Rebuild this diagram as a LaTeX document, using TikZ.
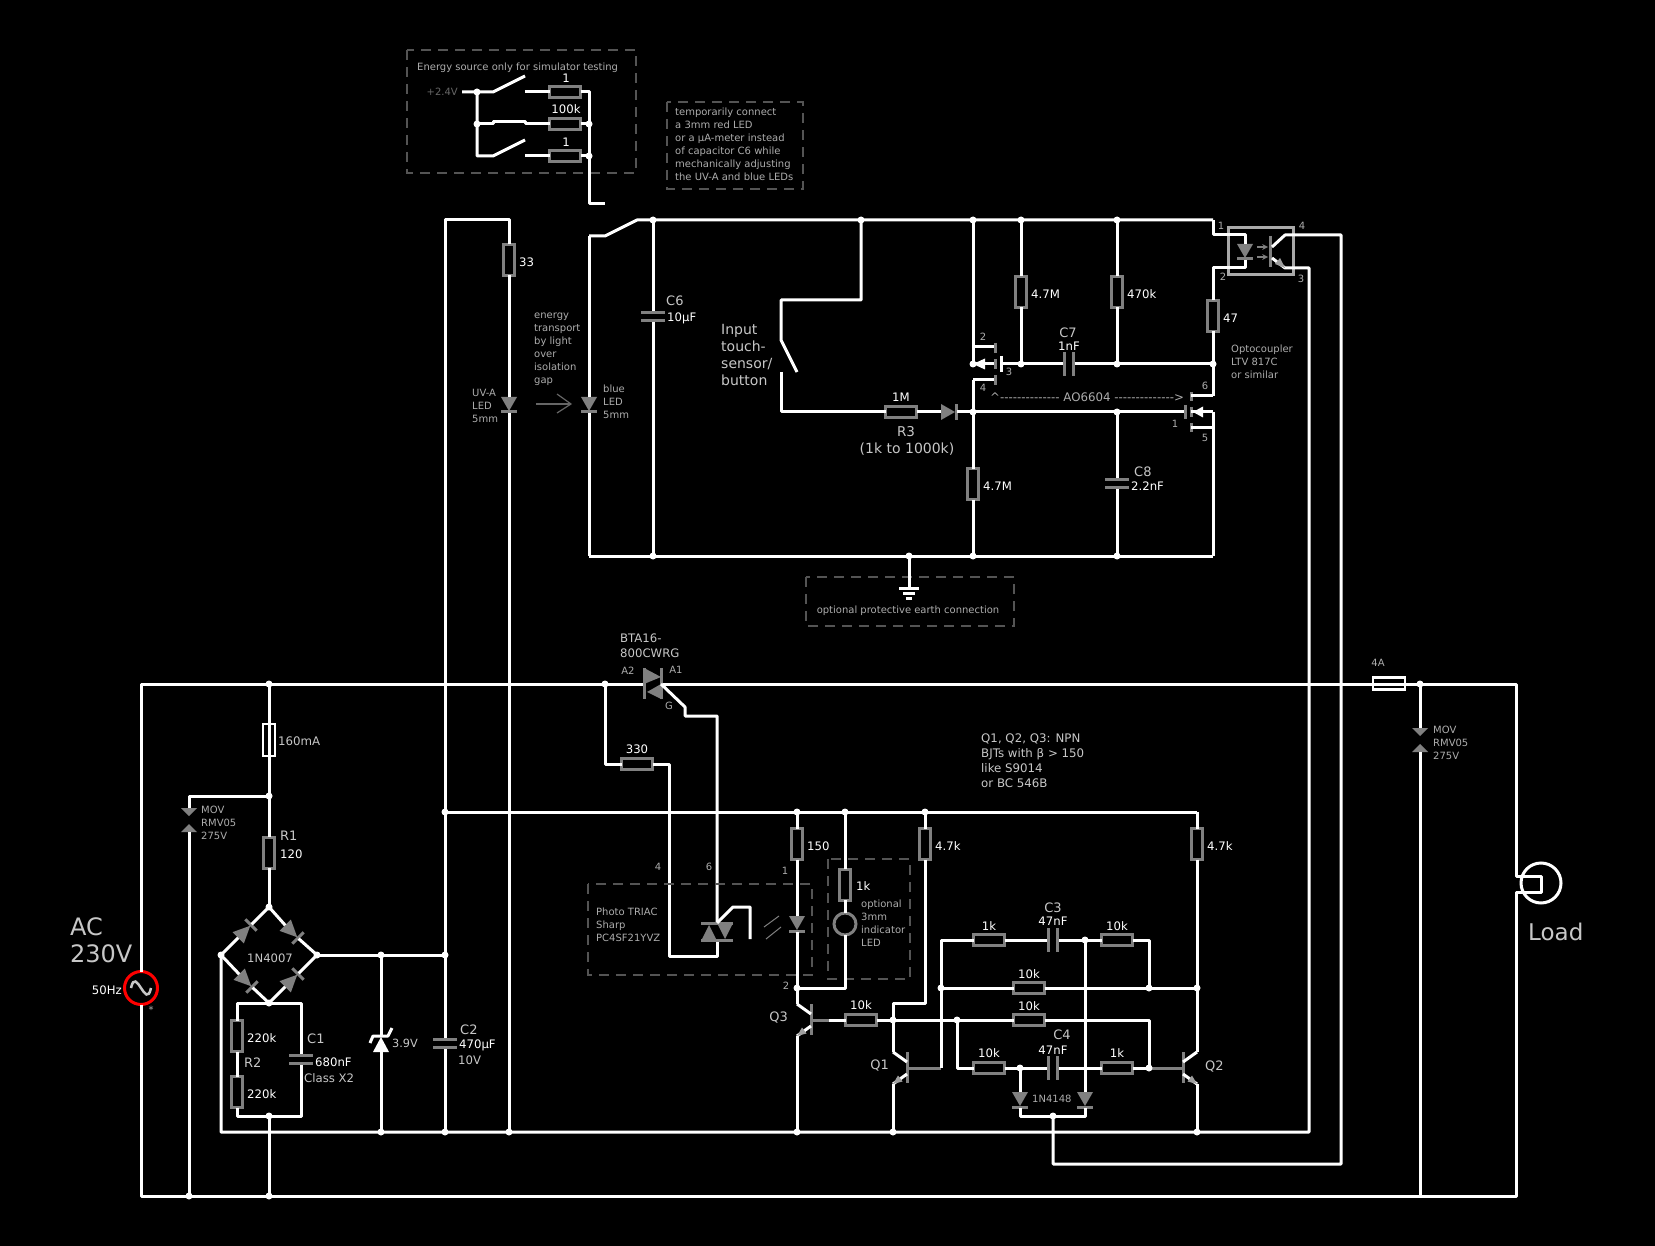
\documentclass[tikz,border=0pt]{standalone}
\usepackage{fontspec}
\setmainfont{DejaVu Sans}
\newfontfamily\plainfont{DejaVu Sans}
\definecolor{partgray}{gray}{.5}
\definecolor{namegray}{gray}{.78}
\definecolor{smallgray}{gray}{.68}
\definecolor{dimgray}{gray}{.4}
\definecolor{boxgray}{gray}{.33}
\tikzset{
  wire/.style={white,line width=3pt,line join=round},
  part/.style={partgray,line width=3pt},
  res/.style={rectangle,draw=partgray,line width=3pt,fill=black,inner sep=0pt,outer sep=0pt,minimum width=11pt,minimum height=31pt},
  resh/.style={res,minimum width=31pt,minimum height=11pt},
  fuse/.style={rectangle,draw=white,line width=2.5pt,inner sep=0pt,minimum width=12pt,minimum height=32pt},
  fuseh/.style={fuse,minimum width=32pt,minimum height=12pt},
  capv/.style={rectangle,fill=partgray,inner sep=0pt,outer sep=0pt,minimum width=24pt,minimum height=11pt,
    path picture={\fill[black] ([yshift=-2.5pt]path picture bounding box.west) rectangle ([yshift=2.5pt]path picture bounding box.east);}},
  caph/.style={rectangle,fill=partgray,inner sep=0pt,outer sep=0pt,minimum width=12pt,minimum height=24pt,
    path picture={\fill[black] ([xshift=-3pt]path picture bounding box.north) rectangle ([xshift=3pt]path picture bounding box.south);}},
  val/.style={white,inner sep=0pt,font=\fontsize{11.7}{14}\selectfont},
  nm/.style={namegray,inner sep=0pt,font=\fontsize{13}{15}\selectfont},
  sm/.style={smallgray,inner sep=0pt,align=left,font=\fontsize{10}{13}\selectfont},
  note/.style={namegray,inner sep=0pt,align=left,font=\fontsize{11.8}{15}\selectfont},
  big/.style={namegray,inner sep=0pt,align=left,font=\fontsize{14}{17}\selectfont},
  huge/.style={namegray,inner sep=0pt,align=left,font=\fontsize{23}{27}\selectfont},
  dbox/.style={draw=boxgray,line width=2pt,dash pattern=on 10pt off 7pt},
  diode/.pic={
    \fill[partgray] (-8,-8) -- (8,-8) -- (0,6) -- cycle;
    \draw[part] (-8,7) -- (8,7);
    \coordinate (-a) at (0,-8);
    \coordinate (-k) at (0,8);
  },
  bdiode/.pic={
    \fill[partgray] (-8,-11) -- (8,-11) -- (0,6) -- cycle;
    \draw[part] (-8,7) -- (8,7);
    \coordinate (-a) at (0,-11);
    \coordinate (-k) at (0,8);
  },
  mov/.pic={
    \fill[partgray] (-8,-12) -- (8,-12) -- (0,-4) -- cycle;
    \fill[partgray] (-8,12) -- (8,12) -- (0,4) -- cycle;
    \coordinate (-t) at (0,-12);
    \coordinate (-b) at (0,12);
  },
  bjt/.pic={
    \draw[part] (0,-16) -- (0,15);
    \draw[wire] (0,-6) -- (-14,-16);
    \draw[wire] (0,6) -- (-14,16);
    \fill[gray!75] (-14,16) -- (-9,7.5) -- (-4.5,13.5) -- cycle;
    \coordinate (-b) at (0,0);
    \coordinate (-c) at (-14,-16);
    \coordinate (-e) at (-14,16);
  },
}
\begin{document}
\begin{tikzpicture}[x=1pt,y=-1pt]
\fill[black] (0,0) rectangle (1655,1246);
\useasboundingbox (0,0) rectangle (1655,1246);

% simulator source
\draw[dbox] (407,50) rectangle (636,173);
\draw[dbox] (667,102) rectangle (803,189);
\node[resh] (Rs1) at (565,92) {};
\node[resh] (Rs2) at (565,124) {};
\node[resh] (Rs3) at (565,156) {};
\coordinate (Vp) at (462,92);
\coordinate (Ja) at (477,92);
\coordinate (Jb) at (477,124);
\coordinate (Jc) at (477,156);
\coordinate (SwaL) at (493,92);
\coordinate (SwaT) at (525,76);
\coordinate (SwaR) at (525,92);
\coordinate (SwbL) at (493,122);
\coordinate (SwbR) at (525,122);
\coordinate (SwcL) at (493,156);
\coordinate (SwcT) at (525,140);
\coordinate (SwcR) at (525,156);
\coordinate (Oa) at (589,92);
\coordinate (Ob) at (589,124);
\coordinate (Oc) at (589,156);
\coordinate (Od) at (589,204);
\coordinate (Oe) at (605,204);
\draw[wire] (Vp) -- (Ja) -- (SwaL) -- (SwaT);
\draw[wire] (SwaR) -- (Rs1.west);
\draw[wire] (Ja) -- (Jc) -- (SwcL) -- (SwcT);
\draw[wire] (SwcR) -- (Rs3.west);
\draw[wire] (Jb) -| (SwbL) -- (SwbR) |- (Rs2.west);
\draw[wire] (Rs1.east) -- (Oa) -- (Od) -- (Oe);
\draw[wire] (Rs2.east) -- (Ob);
\draw[wire] (Rs3.east) -- (Oc);

% isolated side, top and bottom rails
\coordinate (Tl) at (445,220);
\coordinate (Tm) at (509,220);
\coordinate (Ts1) at (589,236);
\coordinate (Ts2) at (605,236);
\coordinate (Ts3) at (637,220);
\coordinate (Tc6) at (653,220);
\coordinate (Tin) at (861,220);
\coordinate (Tfet) at (973,220);
\coordinate (T47) at (1021,220);
\coordinate (T470) at (1117,220);
\coordinate (Topt) at (1213,220);
\coordinate (Bl) at (589,556);
\coordinate (Bc6) at (653,556);
\coordinate (Bgnd) at (909,556);
\coordinate (Bfet) at (973,556);
\coordinate (Bc8) at (1117,556);
\coordinate (Br) at (1213,556);
\draw[wire] (Ts1) -- (Ts2) -- (Ts3) -- (Topt);
\draw[wire] (Bl) -- (Br);

% LEDs over the isolation gap
\node[res] (R33) at (509,260) {};
\pic (Duv) at (509,405) {diode};
\pic (Dbl) at (589,405) {diode};
\node[capv] (C2) at (445,1043.5) {};
\coordinate (Bm) at (509,1132);
\coordinate (Bla) at (445,1132);
\draw[wire] (C2.north) -- (Tl) -- (Tm) -- (R33.north);
\draw[wire] (C2.south) -- (Bla);
\draw[wire] (R33.south) -- (Duv-a);
\draw[wire] (Duv-k) -- (Bm);
\draw[wire] (Ts1) -- (Dbl-a);
\draw[wire] (Dbl-k) -- (Bl);
\draw[dimgray,line width=1.5pt] (536,404) -- (571,404);
\draw[dimgray,line width=1.2pt] (557,394) -- (571,404) -- (557,413);

% C6 and input switch
\node[capv] (C6) at (653,316.5) {};
\draw[wire] (Tc6) -- (C6.north);
\draw[wire] (C6.south) -- (Bc6);
\coordinate (In1) at (861,300);
\coordinate (In2) at (781,300);
\coordinate (In3) at (781,340);
\coordinate (In4) at (797,372);
\coordinate (In5) at (781,372);
\coordinate (In6) at (781,412);
\node[resh] (R3) at (901,412) {};
\pic[rotate=90] (D3) at (949,412) {diode};
\draw[wire] (Tin) -- (In1) -- (In2) -- (In3) -- (In4);
\draw[wire] (In5) -- (In6) -- (R3.west);
\draw[wire] (R3.east) -- (D3-a);

% AO6604 upper half
\node[res] (R47M) at (1021,292) {};
\node[res] (R470) at (1117,292) {};
\node[caph] (C7) at (1068.5,364) {};
\node[res] (R47Mb) at (973,484) {};
\coordinate (Fa) at (973,347);
\coordinate (Fb) at (973,364);
\coordinate (Fc) at (973,380);
\coordinate (Fs) at (995,364);
\coordinate (Fd) at (995,347);
\coordinate (Fe) at (995,380);
\coordinate (Fg) at (1001,364);
\coordinate (J47) at (1021,364);
\coordinate (J470) at (1117,364);
\coordinate (J6) at (1213,364);
\draw[wire] (Tfet) -- (Fb) -- (Fs);
\draw[wire] (Fa) -- (Fd);
\draw[wire] (Fc) -- (Fe);
\draw[wire] (Fc) -- (R47Mb.north);
\draw[wire] (R47Mb.south) -- (Bfet);
\fill[white] (973,364) -- (985,358.5) -- (985,369.5) -- cycle;
\draw[part] (995,343) -- (995,353);
\draw[part] (995,359) -- (995,369);
\draw[part] (995,375) -- (995,385);
\draw[wire] (1001,356) -- (1001,372);
\draw[wire] (Fg) -- (C7.west);
\draw[wire] (C7.east) -- (J6);
\draw[wire] (T47) -- (R47M.north);
\draw[wire] (R47M.south) -- (J47);
\draw[wire] (T470) -- (R470.north);
\draw[wire] (R470.south) -- (J470);

% AO6604 lower half
\coordinate (Gg) at (1185,412);
\coordinate (Gd) at (1191,396);
\coordinate (Gs) at (1191,412);
\coordinate (Gb) at (1191,428);
\coordinate (Gdr) at (1213,396);
\coordinate (Gsr) at (1213,412);
\coordinate (Gbr) at (1213,428);
\coordinate (J3) at (973,412);
\coordinate (J8) at (1117,412);
\draw[wire] (D3-k) -- (Gg);
\draw[part] (1185,405) -- (1185,419);
\draw[part] (1191,392) -- (1191,401);
\draw[part] (1191,407) -- (1191,417);
\draw[part] (1191,423) -- (1191,432);
\draw[wire] (Gd) -- (Gdr);
\draw[wire] (Gs) -- (Gsr);
\draw[wire] (Gb) -- (Gbr);
\fill[white] (1193,412) -- (1203,406.5) -- (1203,417.5) -- cycle;
\draw[wire] (Gsr) -- (Br);
\node[capv] (C8) at (1117,483) {};
\draw[wire] (J8) -- (C8.north);
\draw[wire] (C8.south) -- (Bc8);

% earth
\draw[dbox] (806,577) rectangle (1014,626);
\coordinate (Gnd) at (909,588);
\draw[wire] (Bgnd) -- (Gnd);
\draw[wire] (899,588) -- (919,588);
\draw[wire] (903,593) -- (915,593);
\draw[wire] (906,598) -- (912,598);

% optocoupler
\node[res] (R47) at (1213,316) {};
\pic (Dop) at (1245,252) {diode};
\draw[namegray!85!black,line width=3pt] (1228,228) rectangle (1293,275);
\coordinate (Op1) at (1213,235);
\coordinate (Op2) at (1245,235);
\coordinate (Op3) at (1245,268);
\coordinate (Op4) at (1213,268);
\coordinate (Opc1) at (1272,247);
\coordinate (Opc2) at (1285,235);
\coordinate (Opc3) at (1341,235);
\coordinate (Ope1) at (1272,258);
\coordinate (Ope2) at (1285,268);
\coordinate (Ope3) at (1309,268);
\coordinate (Ret) at (1341,1164);
\coordinate (Ret2) at (1053,1164);
\coordinate (Ret3) at (1053,1116);
\coordinate (Ope4) at (1309,1132);
\coordinate (Brg) at (221,1132);
\coordinate (BrL) at (221,955);
\draw[wire] (Topt) -- (Op1) -- (Op2) -- (Dop-a);
\draw[wire] (Dop-k) -- (Op3) -- (Op4) -- (R47.north);
\draw[wire] (R47.south) -- (J6) -- (Gdr);
\draw[part] (1270,236) -- (1270,267);
\draw[wire] (Opc1) -- (Opc2) -- (Opc3) -- (Ret) -- (Ret2) -- (Ret3);
\draw[wire] (Ope1) -- (Ope2) -- (Ope3) -- (Ope4) -- (Brg) -- (BrL);
\fill[gray!75] (1285,268) -- (1275,264) -- (1280,258) -- cycle;
\draw[partgray,line width=1.5pt,-stealth] (1257,247) -- (1268,247);
\draw[partgray,line width=1.5pt,-stealth] (1257,257) -- (1268,257);

% mains input
\node[circle,draw=red,line width=3pt,inner sep=0pt,outer sep=0pt,minimum size=33pt] (Src) at (141,988) {};
\coordinate (Ml) at (141,684);
\coordinate (Bbl) at (141,1196);
\coordinate (Br1) at (269,684);
\coordinate (Jtr) at (605,684);
\coordinate (TrL) at (644,684);
\coordinate (TrR) at (661,684);
\coordinate (Jmv) at (1420,684);
\coordinate (Mr) at (1516,684);
\coordinate (Lp1) at (1516,876);
\coordinate (Lp2) at (1541,876);
\coordinate (Lp3) at (1541,892);
\coordinate (Lp4) at (1516,892);
\coordinate (Bbr) at (1516,1196);
\draw[wire] (Src.north) -- (Ml) -- (TrL);
\draw[wire] (Src.south) -- (Bbl) -- (Bbr) -- (Lp4) -- (Lp3) -- (Lp2) -- (Lp1) -- (Mr) -- (TrR);
\draw[namegray,line width=2.5pt] (131,988) .. controls (136,965) and (146,1011) .. (151,988);
\node[fuseh] (F4) at (1389,683.5) {};
\node[circle,draw=white,line width=3pt,inner sep=0pt,minimum size=40pt] (Lamp) at (1541,883) {};
\node[fuse] (F160) at (269,740) {};
\node[res] (R1) at (269,852.5) {};
\coordinate (Jm1) at (269,796);
\coordinate (M1c) at (189,796);
\coordinate (Bt) at (269,907);
\coordinate (Brr) at (317,955);
\coordinate (Bb) at (269,1003);
\draw[wire] (Br1) -- (Jm1) -- (R1.north);
\draw[wire] (R1.south) -- (Bt);
\pic (M1) at (189,820) {mov};
\coordinate (Jb1) at (189,1196);
\draw[wire] (Jm1) -- (M1c) -- (M1-t);
\draw[wire] (M1-b) -- (Jb1);

% bridge
\pic[rotate=135] (Dtl) at (246,930) {bdiode};
\pic[rotate=45] (Dtr) at (293,933) {bdiode};
\pic[rotate=45] (Dbl2) at (247,982) {bdiode};
\pic[rotate=135] (Dbr) at (293,979) {bdiode};
\draw[wire] (BrL) -- (Dtl-a);
\draw[wire] (Dtl-k) -- (Bt) -- (Dtr-a);
\draw[wire] (Dtr-k) -- (Brr);
\draw[wire] (BrL) -- (Dbl2-a);
\draw[wire] (Dbl2-k) -- (Bb) -- (Dbr-a);
\draw[wire] (Dbr-k) -- (Brr);

% R2, C1
\coordinate (Rl1) at (237,1003);
\coordinate (Rl2) at (237,1116);
\coordinate (Rr1) at (301,1003);
\coordinate (Rr2) at (301,1116);
\coordinate (Jr) at (269,1116);
\coordinate (Jb2) at (269,1196);
\node[res] (R2a) at (237,1036) {};
\node[res] (R2b) at (237,1092) {};
\node[capv] (C1) at (301,1059.5) {};
\draw[wire] (R2a.north) -- (Rl1) -- (Rr1) -- (C1.north);
\draw[wire] (R2a.south) -- (R2b.north);
\draw[wire] (R2b.south) -- (Rl2) -- (Rr2) -- (C1.south);
\draw[wire] (Jr) -- (Jb2);

% supply rail, zener
\coordinate (Jz) at (381,955);
\coordinate (Jc2) at (445,955);
\coordinate (Bz) at (381,1132);
\coordinate (Jrail) at (445,812);
\coordinate (Rail) at (1197,812);
\coordinate (Za) at (381,1037);
\coordinate (Zk) at (381,1052);
\draw[wire] (Brr) -- (Jc2);
\draw[wire] (Jz) -- (Za);
\draw[wire] (Zk) -- (Bz);
\fill[white] (373,1052) -- (389,1052) -- (381,1037) -- cycle;
\draw[wire] (370,1043) -- (373,1036) -- (388,1036) -- (392,1028);
\draw[wire] (Jrail) -- (Rail);

% triac and gate
\coordinate (Gt1) at (685,707);
\coordinate (Gt2) at (685,716);
\coordinate (Gt3) at (717,716);
\coordinate (Gt4) at (717,923);
\coordinate (R3a) at (605,764);
\coordinate (R3b) at (669,764);
\coordinate (R3c) at (669,956);
\coordinate (R3d) at (717,956);
\coordinate (R3e) at (717,941);
\node[resh] (R330) at (637,764) {};
\draw[part] (644,668) -- (644,699);
\draw[part] (661,668) -- (661,699);
\fill[partgray] (644,668) -- (644,684) -- (661,677) -- cycle;
\fill[partgray] (661,684) -- (661,699) -- (647,692) -- cycle;
\draw[wire] (TrR) -- (Gt1) -- (Gt2) -- (Gt3) -- (Gt4);
\draw[wire] (Jtr) -- (R3a) -- (R330.west);
\draw[wire] (R330.east) -- (R3b) -- (R3c) -- (R3d) -- (R3e);

% photo triac
\draw[dbox] (588,884) rectangle (812,975);
\draw[part] (701,923) -- (733,923);
\draw[part] (701,940) -- (733,940);
\fill[partgray] (701,941) -- (717,941) -- (709,925) -- cycle;
\fill[partgray] (717,923) -- (733,923) -- (725,939) -- cycle;
\coordinate (Pg1) at (733,907);
\coordinate (Pg2) at (750,907);
\coordinate (Pg3) at (750,939);
\draw[wire] (Gt4) -- (Pg1) -- (Pg2) -- (Pg3);
\draw[partgray,line width=1pt] (764,927) -- (779,916);
\draw[partgray,line width=1pt] (766,939) -- (781,927);

% LED branch and Q3
\coordinate (J150) at (797,812);
\coordinate (J1k) at (845,812);
\coordinate (J47k) at (925,812);
\coordinate (J2) at (797,988);
\coordinate (Cr) at (845,988);
\node[res] (R150) at (797,844) {};
\pic (Dph) at (797,924) {diode};
\draw[wire] (J150) -- (R150.north);
\draw[wire] (R150.south) -- (Dph-a);
\pic (Q3) at (811,1020) {bjt};
\draw[wire] (Dph-k) -- (J2) -- (Q3-c);
\node[res] (R1k) at (845,884.5) {};
\node[circle,draw=partgray,line width=3pt,fill=black,inner sep=0pt,outer sep=0pt,minimum size=22pt] (Lind) at (845,924) {};
\draw[dbox] (828,859) rectangle (910,979);
\draw[wire] (J1k) -- (R1k.north);
\draw[wire] (R1k.south) -- (Lind.north);
\draw[wire] (Lind.south) -- (Cr) -- (J2);
\coordinate (Eq3) at (797,1132);
\draw[wire] (Q3-e) -- (Eq3);

% flip-flop
\node[res] (R47ka) at (925,844) {};
\node[res] (R47kb) at (1197,844) {};
\pic (Q1) at (907,1068) {bjt};
\pic[xscale=-1] (Q2) at (1183,1068) {bjt};
\coordinate (Q1a) at (925,1003);
\coordinate (Q1b) at (893,1003);
\coordinate (Bq1) at (941,1068);
\coordinate (Bq2) at (1149,1068);
\coordinate (Bq3) at (829,1020);
\coordinate (Eq1) at (893,1132);
\coordinate (Eq2) at (1197,1132);
\coordinate (Jq1) at (893,1020);
\coordinate (Ln1) at (941,940);
\coordinate (Ln2) at (1149,940);
\coordinate (Jd1) at (1085,940);
\coordinate (Jr2) at (941,988);
\coordinate (Jr3) at (1149,988);
\coordinate (Jc4) at (1197,988);
\coordinate (Jl) at (957,1020);
\coordinate (Ll) at (957,1068);
\coordinate (Lr) at (1149,1020);
\coordinate (Jd2) at (1020,1068);
\node[resh] (Ra) at (989,940) {};
\node[caph] (C3) at (1053,940) {};
\node[resh] (Rb) at (1117,940) {};
\node[resh] (Rc) at (1029,988) {};
\node[resh] (Rd) at (861,1020) {};
\node[resh] (Re) at (1029,1020) {};
\node[resh] (Rf) at (989,1068) {};
\node[caph] (C4) at (1053,1068) {};
\node[resh] (Rg) at (1117,1068) {};
\pic (D41) at (1020,1100) {diode};
\pic (D42) at (1085,1100) {diode};
\coordinate (Dl) at (1020,1116);
\coordinate (Dr) at (1085,1116);
\draw[wire] (J47k) -- (R47ka.north);
\draw[wire] (R47ka.south) -- (Q1a) -- (Q1b) -- (Q1-c);
\draw[wire] (Q1-e) -- (Eq1);
\draw[wire] (Rail) -- (R47kb.north);
\draw[wire] (R47kb.south) -- (Q2-c);
\draw[wire] (Q2-e) -- (Eq2);
\draw[part] (Q1-b) -- (Bq1);
\draw[part] (Q2-b) -- (Bq2);
\draw[part] (Q3-b) -- (Bq3);
\draw[wire] (Bq1) -- (Ln1) -- (Ra.west);
\draw[wire] (Ra.east) -- (C3.west);
\draw[wire] (C3.east) -- (Rb.west);
\draw[wire] (Rb.east) -- (Ln2) -- (Jr3);
\draw[wire] (Jr2) -- (Rc.west);
\draw[wire] (Rc.east) -- (Jc4);
\draw[wire] (Bq3) -- (Rd.west);
\draw[wire] (Rd.east) -- (Re.west);
\draw[wire] (Re.east) -- (Lr) -- (Bq2);
\draw[wire] (Jl) -- (Ll) -- (Rf.west);
\draw[wire] (Rf.east) -- (C4.west);
\draw[wire] (C4.east) -- (Rg.west);
\draw[wire] (Rg.east) -- (Bq2);
\draw[wire] (Jd1) -- (D42-a);
\draw[wire] (Jd2) -- (D41-a);
\draw[wire] (D41-k) -- (Dl) -- (Dr) -- (D42-k);

% right MOV and load
\pic (M2) at (1420,740) {mov};
\coordinate (Jb3) at (1420,1196);
\draw[wire] (Jmv) -- (M2-t);
\draw[wire] (M2-b) -- (Jb3);

% junction dots
\foreach \j in {Ja,Jb,Ob,Oc,Tc6,Tin,Tfet,T47,T470,Bc6,Bgnd,Bfet,Bc8,Fb,J47,J470,J6,J3,J8,Br1,Jm1,Jtr,Jmv,Jb1,Jb2,Jr,Bt,Bb,BrL,Brr,Jz,Jc2,Jrail,Bz,Bla,Bm,J150,J1k,J47k,J2,Eq1,Eq2,Eq3,Jq1,Jd1,Jr2,Jr3,Jc4,Jl,Bq2,Jd2,Ret3} {
  \fill[white] (\j) circle (3.5pt);
}

% labels
\node[sm,anchor=west] (tEn) at (417,68) {Energy source only for simulator testing};
\node[sm,anchor=east,text=dimgray] (tV) at (458,92) {+2.4V};
\node[val] (t1a) at (566,78) {1};
\node[val] (t1b) at (566,109) {100k};
\node[val] (t1c) at (566,142) {1};
\node[sm,anchor=north west] (tTemp) at (675,108) {temporarily connect\\a 3mm red LED\\or a µA-meter instead\\of capacitor C6 while\\mechanically adjusting\\the UV-A and blue LEDs};
\node[val,anchor=west] (t33) at (519,262) {33};
\node[sm,anchor=north west] (tGap) at (534,313) {energy\\transport\\by light\\over\\isolation\\gap};
\node[sm,anchor=north west] (tUv) at (472,389) {UV-A\\LED\\5mm};
\node[sm,anchor=north west] (tBl) at (603,385) {blue\\LED\\5mm};
\node[nm,anchor=west] (tC6) at (666,301) {C6};
\node[val,anchor=west] (t10u) at (667,318) {10µF};
\node[big,anchor=north west] (tIn) at (721,324) {Input\\touch-\\sensor/\\button};
\node[val] (t1M) at (901,397) {1M};
\node[nm,font=\fontsize{13.5}{15}\selectfont] (tR3) at (906,432) {R3};
\node[nm,font=\fontsize{14}{15}\selectfont] (tR3v) at (907,449) {(1k to 1000k)};
\node[val,anchor=west] (t47Ma) at (1031,294) {4.7M};
\node[val,anchor=west] (t470) at (1127,294) {470k};
\node[val,anchor=west] (t47) at (1223,318) {47};
\node[nm] (tC7) at (1068,333) {C7};
\node[val] (t1n) at (1069,346) {1nF};
\node[val,anchor=west] (t47Mb) at (983,486) {4.7M};
\node[nm,anchor=west] (tC8) at (1134,472) {C8};
\node[val,anchor=west] (t22n) at (1131,486) {2.2nF};
\node[sm,anchor=north west] (tOp) at (1231,345) {Optocoupler\\LTV 817C\\or similar};
\node[sm] (tp2) at (983,337) {2};
\node[sm] (tp3) at (1009,372) {3};
\node[sm] (tp4) at (983,388) {4};
\node[sm] (tp6) at (1205,386) {6};
\node[sm] (tp1) at (1175,424) {1};
\node[sm] (tp5) at (1205,438) {5};
\node[sm] (to1) at (1221,226) {1};
\node[sm] (to4) at (1302,226) {4};
\node[sm] (to2) at (1223,277) {2};
\node[sm] (to3) at (1301,279) {3};
\node[sm,anchor=west,font=\plainfont\fontsize{11.8}{14}\selectfont] (tAo) at (990,397) {\textasciicircum-------------- AO6604 -------------->};
\node[sm] (tEarth) at (908,611) {optional protective earth connection};
\node[huge,anchor=north west,font=\fontsize{24}{27}\selectfont] (tAc) at (70,917) {AC\\230V};
\node[val,anchor=east] (t50) at (122,990) {50Hz};
\node[sm] (tAst) at (151,1010) {*};
\node[sm,anchor=north west] (tMv1) at (201,806) {MOV\\RMV05\\275V};
\node[sm,anchor=north west] (tMv2) at (1433,726) {MOV\\RMV05\\275V};
\node[nm,anchor=west,font=\fontsize{11.8}{14}\selectfont] (t160) at (278,741) {160mA};
\node[nm,anchor=west] (tR1) at (280,836) {R1};
\node[val,anchor=west] (t120) at (280,854) {120};
\node[nm,anchor=west,font=\fontsize{11.6}{14}\selectfont] (tBr) at (247,958) {1N4007};
\node[val,anchor=west] (t220a) at (247,1038) {220k};
\node[val,anchor=west] (t220b) at (247,1094) {220k};
\node[nm,anchor=west] (tR2) at (244,1063) {R2};
\node[nm,anchor=west] (tC1) at (307,1039) {C1};
\node[val,anchor=west] (t680) at (315,1062) {680nF};
\node[nm,anchor=west,font=\fontsize{11.7}{14}\selectfont] (tX2) at (304,1078) {Class X2};
\node[nm,anchor=west,font=\fontsize{11.3}{14}\selectfont] (t39) at (392,1043) {3.9V};
\node[nm,anchor=west] (tC2) at (460,1030) {C2};
\node[val,anchor=west] (t470u) at (459,1045) {470µF};
\node[nm,anchor=west,font=\fontsize{11.7}{14}\selectfont] (t10V) at (458,1060) {10V};
\node[nm,anchor=north west,align=left,font=\fontsize{11.7}{15}\selectfont] (tBta) at (620,634) {BTA16-\\800CWRG};
\node[sm] (tA2) at (628,671) {A2};
\node[sm] (tA1) at (676,670) {A1};
\node[sm] (tG) at (669,706) {G};
\node[val] (t330) at (637,749) {330};
\node[sm] (tq4) at (658,867) {4};
\node[sm] (tq6) at (709,867) {6};
\node[sm] (tq1) at (785,871) {1};
\node[sm] (tq2) at (786,986) {2};
\node[sm,anchor=north west] (tPh) at (596,908) {Photo TRIAC\\Sharp\\PC4SF21YVZ};
\node[val,anchor=west] (t150) at (807,846) {150};
\node[val,anchor=west] (t1kx) at (856,886) {1k};
\node[sm,anchor=north west] (tOpt) at (861,900) {optional\\3mm\\indicator\\LED};
\node[val,anchor=west] (t47ka) at (935,846) {4.7k};
\node[val,anchor=west] (t47kb) at (1207,846) {4.7k};
\node[note,anchor=north west] (tNote) at (981,734) {Q1, Q2, Q3: NPN\\BJTs with β > 150\\like S9014\\or BC 546B};
\node[val] (tr1) at (989,926) {1k};
\node[nm] (tC3) at (1053,908) {C3};
\node[val] (tc47a) at (1053,921) {47nF};
\node[val] (tr2) at (1117,926) {10k};
\node[val] (tr3) at (1029,974) {10k};
\node[val] (tr4) at (861,1005) {10k};
\node[val] (tr5) at (1029,1006) {10k};
\node[nm] (tC4) at (1062,1035) {C4};
\node[val] (tc47b) at (1053,1050) {47nF};
\node[val] (tr6) at (989,1053) {10k};
\node[val] (tr7) at (1117,1053) {1k};
\node[sm,anchor=west] (t4148) at (1032,1099) {1N4148};
\node[nm,anchor=east] (tQ3) at (788,1018) {Q3};
\node[nm,anchor=east] (tQ1) at (889,1066) {Q1};
\node[nm,anchor=west] (tQ2) at (1205,1067) {Q2};
\node[sm] (t4A) at (1378,663) {4A};
\node[huge,anchor=west] (tLoad) at (1528,932) {Load};
\end{tikzpicture}
\end{document}
